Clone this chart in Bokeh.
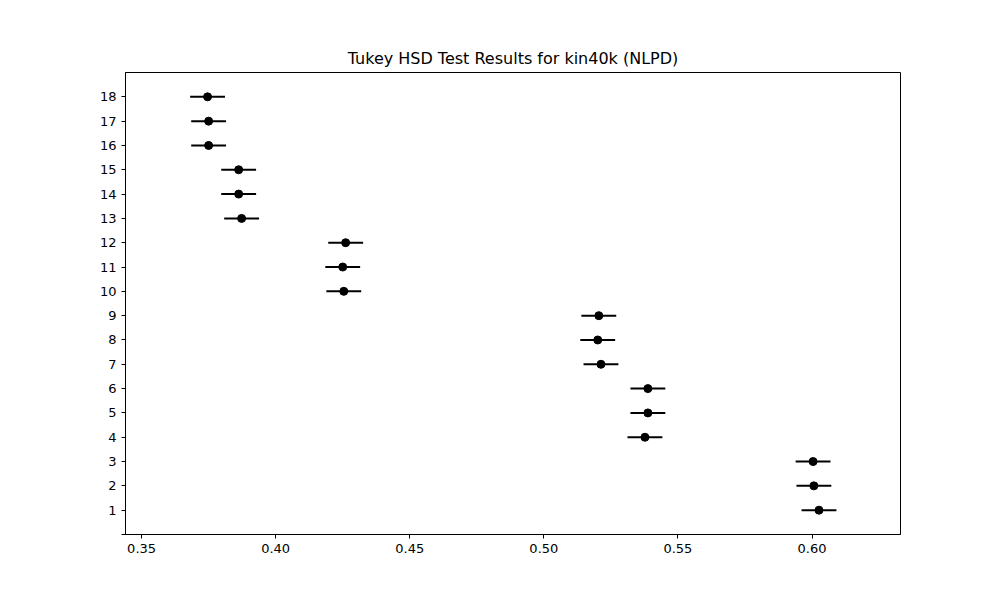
from bokeh.embed import file_html
from bokeh.models import FixedTicker
from bokeh.plotting import figure
from bokeh.resources import INLINE

# group index and mean NLPD with half-width of the confidence interval
groups = list(range(1, 19))
means = [0.6026, 0.6007, 0.6004, 0.5377, 0.5388, 0.5388, 0.5213, 0.5201, 0.5205,
         0.4254, 0.4250, 0.4261, 0.3873, 0.3862, 0.3862, 0.3750, 0.3750, 0.3746]
half_width = [0.0065] * 18
x_ticks = [0.35, 0.40, 0.45, 0.50, 0.55, 0.60]

lower = [m - h for m, h in zip(means, half_width)]
upper = [m + h for m, h in zip(means, half_width)]

p = figure(
    width=992, height=592,
    title="Tukey HSD Test Results for kin40k (NLPD)",
    x_range=(0.344, 0.633), y_range=(0, 19),
    output_backend="svg", toolbar_location=None,
    min_border_left=125, min_border_right=92,
    min_border_top=72, min_border_bottom=58,
)
p.title.align = "center"
p.title.text_font = "DejaVu Sans"
p.title.text_font_style = "normal"
p.title.text_font_size = "16px"
p.title.text_color = "black"

p.segment(lower, groups, upper, groups, line_color="black", line_width=2)
p.scatter(means, groups, size=8, color="black")

p.xgrid.visible = False
p.ygrid.visible = False
p.outline_line_color = "black"
p.xaxis.ticker = FixedTicker(ticks=x_ticks)
p.xaxis.major_label_overrides = {t: f"{t:.2f}" for t in x_ticks}
p.yaxis.ticker = FixedTicker(ticks=[0] + groups)
p.yaxis.major_label_overrides = {0: ""}
for ax in (p.xaxis[0], p.yaxis[0]):
    ax.minor_tick_line_color = None
    ax.axis_line_color = "black"
    ax.major_label_text_font = "DejaVu Sans"
    ax.major_label_text_font_size = "13px"
    ax.major_label_text_color = "black"
    ax.major_tick_out = 4
    ax.major_tick_in = 0

open("out.html", "w").write(file_html(p, INLINE))
